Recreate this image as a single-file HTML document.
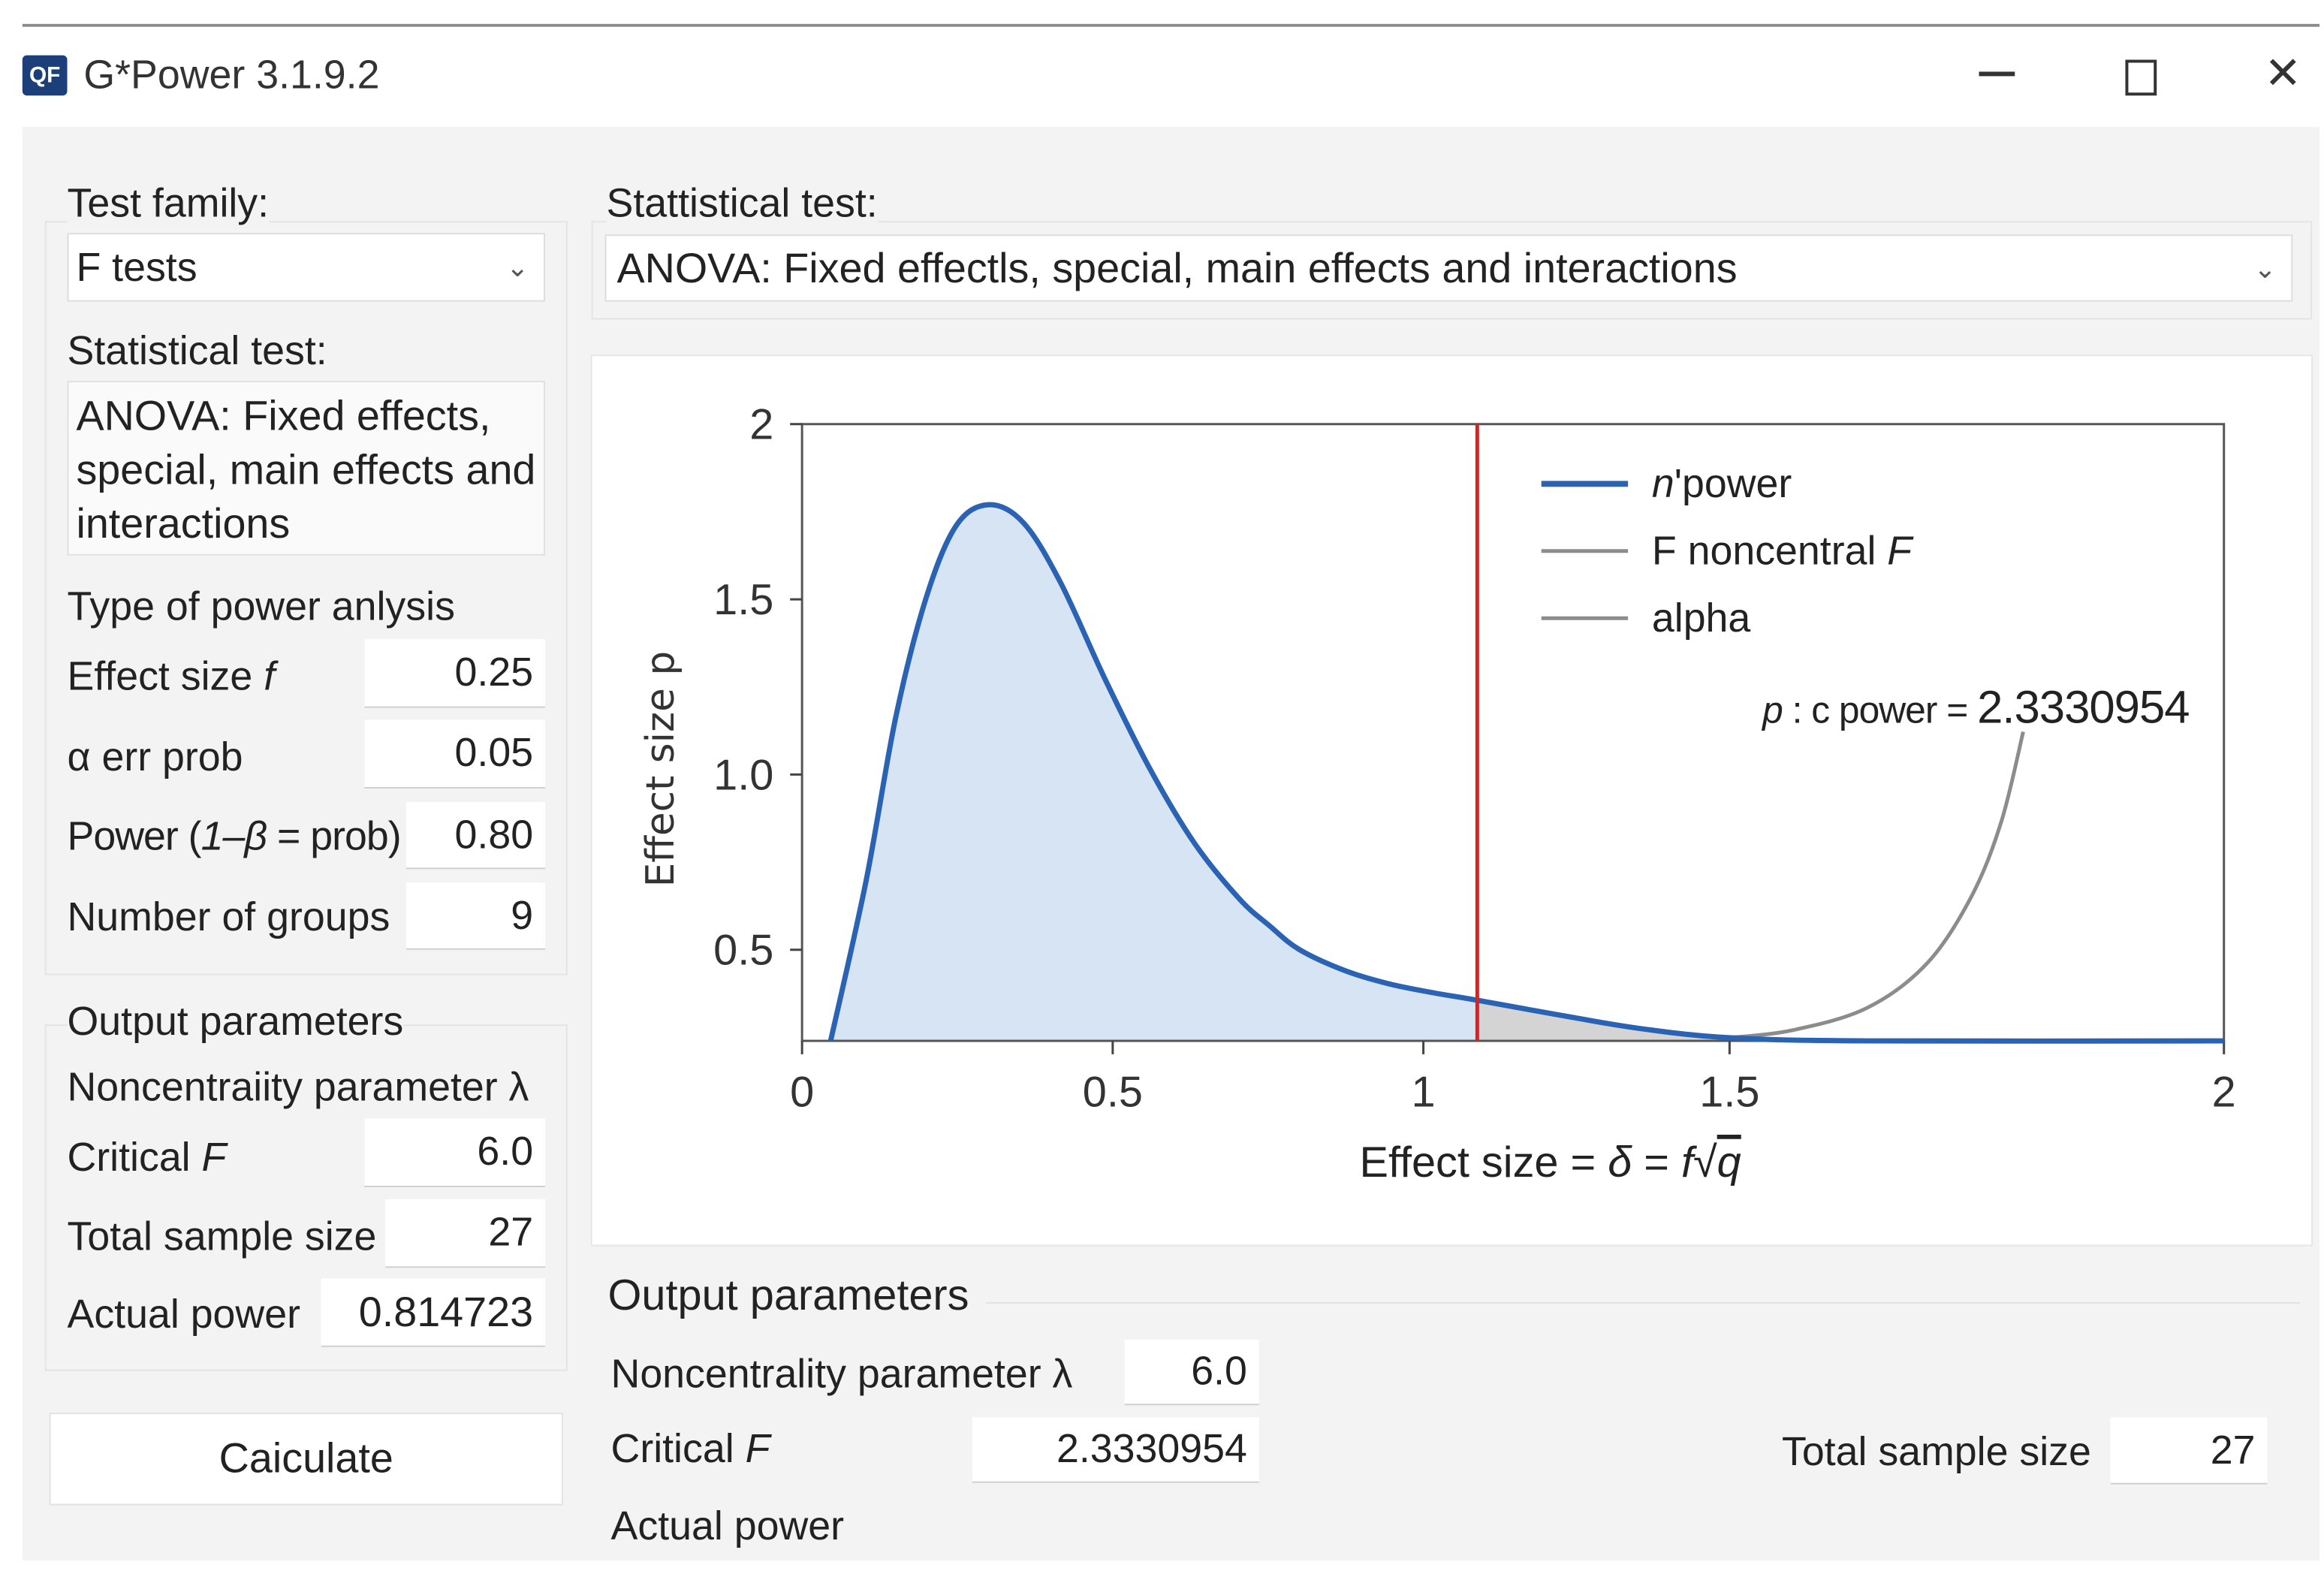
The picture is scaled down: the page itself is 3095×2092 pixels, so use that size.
<!DOCTYPE html>
<html><head><meta charset="utf-8"><style>
html,body{margin:0;padding:0;background:#fff;}
body{width:3095px;height:2092px;overflow:hidden;position:relative;}
#root{position:absolute;left:0;top:0;width:1556px;height:1052px;transform-origin:0 0;transform:scale(1.98907,1.98859);font-family:"Liberation Sans",sans-serif;color:#222;}
.abs{position:absolute;}
.t{position:absolute;font-size:27px;white-space:nowrap;line-height:1;}
.inp{position:absolute;background:#fff;border-bottom:1px solid #cfcfcf;box-sizing:border-box;font-size:27px;text-align:right;padding-right:8px;line-height:1;display:flex;align-items:center;justify-content:flex-end;}
.grp{position:absolute;border:1px solid #e4e4e4;box-sizing:border-box;}
</style></head><body>
<div id="root">
<div class="abs" style="left:15px;top:16px;width:1538px;height:2px;background:#8a8a8a"></div>
<div class="abs" style="left:15px;top:18px;width:1538px;height:67px;background:#fff"></div>
<div class="abs" style="left:15px;top:37px;width:30px;height:27px;background:#1c3f7a;border-radius:3px;color:#fff;font-size:15px;font-weight:bold;text-align:center;line-height:27px">QF</div>
<div class="t" style="left:56px;top:37px;font-size:27px;color:#333">G*Power 3.1.9.2</div>
<div class="abs" style="left:1325px;top:48px;width:24px;height:3px;background:#333"></div>
<div class="abs" style="left:1423px;top:40px;width:17px;height:20px;border:2px solid #333"></div>
<div class="abs" style="left:1516px;top:32px;font-size:30px;color:#333">✕</div>
<div class="abs" style="left:15px;top:85px;width:1538px;height:960px;background:#f3f3f3"></div>

<div class="grp" style="left:30px;top:148px;width:350px;height:505px"></div>
<div class="t" style="left:45px;top:123px;background:#f3f3f3">Test family:</div>
<div class="inp" style="left:45px;top:156px;width:320px;height:46px;justify-content:flex-start;padding-left:5px;border:1px solid #ddd"><span>F tests</span><span style="position:absolute;right:10px;font-size:18px;color:#555">⌄</span></div>
<div class="t" style="left:45px;top:222px">Statistical test:</div>
<div class="abs" style="left:45px;top:255px;width:320px;height:117px;background:#fafafa;border:1px solid #e0e0e0;box-sizing:border-box"></div>
<div class="t" style="left:51px;top:265px;font-size:28px">ANOVA: Fixed effects,</div>
<div class="t" style="left:51px;top:301px;font-size:28px">special, main effects and</div>
<div class="t" style="left:51px;top:337px;font-size:28px">interactions</div>
<div class="t" style="left:45px;top:393px">Type of power anlysis</div>
<div class="t" style="left:45px;top:440px">Effect size <i>f</i></div>
<div class="inp" style="left:244px;top:428px;width:121px;height:46px">0.25</div>
<div class="t" style="left:45px;top:494px">α err prob</div>
<div class="inp" style="left:244px;top:482px;width:121px;height:46px">0.05</div>
<div class="t" style="left:45px;top:547px;letter-spacing:-0.5px">Power (<i>1–β</i> = prob)</div>
<div class="inp" style="left:272px;top:537px;width:93px;height:45px">0.80</div>
<div class="t" style="left:45px;top:601px">Number of groups</div>
<div class="inp" style="left:272px;top:591px;width:93px;height:45px">9</div>

<div class="grp" style="left:30px;top:686px;width:350px;height:232px"></div>
<div class="t" style="left:45px;top:671px;background:#f3f3f3">Output parameters</div>
<div class="t" style="left:45px;top:715px">Noncentraiity parameter λ</div>
<div class="t" style="left:45px;top:762px">Critical <i>F</i></div>
<div class="inp" style="left:244px;top:749px;width:121px;height:46px">6.0</div>
<div class="t" style="left:45px;top:815px">Total sample size</div>
<div class="inp" style="left:258px;top:803px;width:107px;height:46px">27</div>
<div class="t" style="left:45px;top:867px">Actual power</div>
<div class="inp" style="left:215px;top:856px;width:150px;height:46px;font-size:28px">0.814723</div>
<div class="abs" style="left:33px;top:946px;width:344px;height:62px;background:#fff;border:1px solid #e2e2e2;box-sizing:border-box;font-size:28px;display:flex;align-items:center;justify-content:center">Caiculate</div>

<div class="grp" style="left:396px;top:148px;width:1152px;height:66px"></div>
<div class="t" style="left:406px;top:123px;background:#f3f3f3">Stattistical test:</div>
<div class="inp" style="left:405px;top:157px;width:1130px;height:45px;justify-content:flex-start;padding-left:7px;border:1px solid #ddd;font-size:28px"><span>ANOVA: Fixed effectls, special, main effects and interactions</span><span style="position:absolute;right:10px;font-size:18px;color:#555">⌄</span></div>

<svg class="abs" style="left:0;top:0" width="1556" height="1052">
<rect x="396" y="238" width="1152" height="596" fill="#fff" stroke="#e6e6e6"/>
<g id="plot"></g>
</svg>

<div class="t" style="left:407px;top:854px;font-size:29px">Output parameters</div>
<div class="abs" style="left:660px;top:872px;width:880px;height:1px;background:#e2e2e2"></div>
<div class="t" style="left:409px;top:907px">Noncentrality parameter λ</div>
<div class="inp" style="left:753px;top:897px;width:90px;height:44px">6.0</div>
<div class="t" style="left:409px;top:957px">Critical <i>F</i></div>
<div class="inp" style="left:651px;top:949px;width:192px;height:44px">2.3330954</div>
<div class="t" style="left:1193px;top:959px">Total sample size</div>
<div class="inp" style="left:1413px;top:949px;width:105px;height:45px">27</div>
<div class="t" style="left:409px;top:1009px">Actual power</div>
</div>
<script>
const xTicks=[0,0.5,1,1.5,2];
const xTickLabels=["0","0.5","1","1.5","2"];
const yTicks=[0.5,1.0,1.5,2];
const yTickLabels=["0.5","1.0","1.5","2"];
const powerX=[0.046,0.103,0.151,0.2,0.248,0.30,0.356,0.416,0.488,0.56,0.632,0.704,0.752,0.8,0.873,0.944,1.017,1.088,1.237,1.359,1.5,1.639,2];
const powerY=[0.24,0.696,1.165,1.506,1.71,1.77,1.719,1.548,1.271,1.016,0.803,0.645,0.569,0.501,0.441,0.403,0.377,0.356,0.309,0.274,0.249,0.24,0.24];
const noncentralX=[1.5,1.563,1.639,1.7,1.745,1.775,1.797];
const noncentralY=[0.249,0.27,0.334,0.462,0.654,0.867,1.122];
const criticalX=[1.088];
const yMin=0.24,yMax=2;
const NS="http://www.w3.org/2000/svg";
const xPx=[537,745,953,1158,1489];
function X(v){for(let i=0;i<xTicks.length-1;i++){if(v<=xTicks[i+1]||i===xTicks.length-2){return xPx[i]+(v-xTicks[i])/(xTicks[i+1]-xTicks[i])*(xPx[i+1]-xPx[i]);}}}
function Y(v){return 697-(v-yMin)/(yMax-yMin)*(697-284);}
const g=document.getElementById('plot');
function mk(t,a,txt){const e=document.createElementNS(NS,t);for(const k in a)e.setAttribute(k,a[k]);if(txt!==undefined)e.textContent=txt;g.appendChild(e);return e;}
function interp(xs,ys,x){for(let i=0;i<xs.length-1;i++){if(x<=xs[i+1])return ys[i]+(ys[i+1]-ys[i])*(x-xs[i])/(xs[i+1]-xs[i]);}return ys[ys.length-1];}
function smooth(pts){let d="M"+pts[0][0]+","+pts[0][1];for(let i=0;i<pts.length-1;i++){const p0=pts[i-1]||pts[i],p1=pts[i],p2=pts[i+1],p3=pts[i+2]||p2;const c1=[p1[0]+(p2[0]-p0[0])/6,p1[1]+(p2[1]-p0[1])/6],c2=[p2[0]-(p3[0]-p1[0])/6,p2[1]-(p3[1]-p1[1])/6];d+=" C"+c1[0]+","+c1[1]+" "+c2[0]+","+c2[1]+" "+p2[0]+","+p2[1];}return d;}
const cx=criticalX[0];
let bp=[];for(let i=0;i<powerX.length&&powerX[i]<cx;i++)bp.push([X(powerX[i]),Y(powerY[i])]);bp.push([X(cx),Y(interp(powerX,powerY,cx))]);
let e=mk('path',{d:smooth(bp)+" L"+X(cx)+","+Y(yMin)+" L"+X(powerX[0])+","+Y(yMin)+"Z",fill:"#d7e4f4"});


let gp=[[X(cx),Y(interp(powerX,powerY,cx))]];for(let i=0;i<powerX.length;i++){if(powerX[i]>cx&&powerX[i]<=1.5)gp.push([X(powerX[i]),Y(powerY[i])]);}
e=mk('path',{d:smooth(gp)+" L"+X(1.5)+","+Y(yMin)+" L"+X(cx)+","+Y(yMin)+"Z",fill:"#d4d4d4"});


e=mk('rect',{x:537,y:284,width:952,height:413,fill:"none",stroke:"#555","stroke-width":1.5});


xTicks.forEach((t,i)=>{mk('line',{x1:X(t),x2:X(t),y1:697,y2:706,stroke:"#444","stroke-width":1.5});
const l=mk('text',{x:X(t),y:741,"text-anchor":"middle","font-size":29,fill:"#333"},xTickLabels[i]);

});
yTicks.forEach((t,i)=>{mk('line',{x1:529,x2:537,y1:Y(t),y2:Y(t),stroke:"#444","stroke-width":1.5});
const l=mk('text',{x:518,y:Y(t)+10,"text-anchor":"end","font-size":29,fill:"#333"},yTickLabels[i]);

});
let np=noncentralX.map((v,i)=>[X(v),Y(noncentralY[i])]);
e=mk('path',{d:smooth(np),fill:"none",stroke:"#8c8c8c","stroke-width":2.5});


let pp=powerX.map((v,i)=>[X(v),Y(powerY[i])]);
e=mk('path',{d:smooth(pp),fill:"none",stroke:"#2a62b4","stroke-width":3.5});


e=mk('line',{x1:X(cx),x2:X(cx),y1:284,y2:697,stroke:"#e02020","stroke-width":2.5});


const leg=[["#2a62b4",4,"<tspan font-style='italic'>n</tspan>'power"],["#8c8c8c",2.5,"F noncentral <tspan font-style='italic'>F</tspan>"],["#8c8c8c",2.5,"alpha"]];
leg.forEach((L,i)=>{const y=324+i*45;mk('line',{x1:1032,x2:1090,y1:y,y2:y,stroke:L[0],"stroke-width":L[1]});
const t=mk('text',{x:1106,y:y+9,"font-size":27,fill:"#222"});t.innerHTML=L[2];

});
e=mk('text',{x:1180,y:484,"font-size":25,fill:"#222","letter-spacing":"-0.5"});e.innerHTML="<tspan font-style='italic'>p</tspan> : c power = <tspan font-size='31'>2.3330954</tspan>";


e=mk('text',{x:0,y:0,"font-size":26,fill:"#333","text-anchor":"middle",transform:"translate(451,515) rotate(-90)","font-family":"DejaVu Sans, sans-serif"},"Effect size p");


e=mk('text',{x:1038,y:788,"font-size":29,fill:"#222","text-anchor":"middle"});e.innerHTML="Effect size = <tspan font-style='italic'>δ</tspan> = <tspan font-style='italic'>f</tspan>√<tspan font-style='italic' text-decoration='overline'>q</tspan>";


</script>
</body></html>
